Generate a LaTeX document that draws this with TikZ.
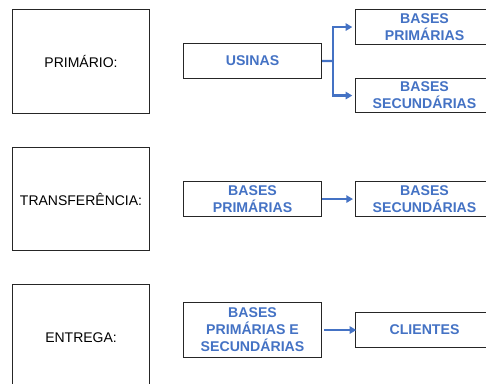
\documentclass[tikz,border=0pt]{standalone}
\usepackage{fontspec}
\setmainfont{Liberation Sans}
\usetikzlibrary{arrows.meta}
\definecolor{bl}{HTML}{4472C4}
\definecolor{bd}{HTML}{262626}
\begin{document}
\begin{tikzpicture}[x=0.75pt,y=-0.75pt,
  lbox/.style={draw=bd,line width=0.8pt,minimum width=102.75pt,anchor=north west,inner sep=0pt,font=\fontsize{10.5}{12.75}\selectfont,text=black},
  bbox/.style={draw=bd,line width=0.8pt,minimum width=103.5pt,anchor=north west,inner sep=0pt,align=center,font=\fontsize{10.6}{12.75}\selectfont\bfseries,text=bl},
  arr/.style={draw=bl,line width=1.6pt,-{Triangle[length=5pt,width=5.5pt]}},
  ln/.style={draw=bl,line width=1.6pt}]
\useasboundingbox (0,0) rectangle (486,383);
% left labels
\node[lbox,minimum height=78pt] (l1) at (12,9) {PRIMÁRIO:};
\node[lbox,minimum height=77.25pt] (l2) at (12,147) {TRANSFERÊNCIA:};
\node[lbox,minimum height=79.5pt] (l3) at (12,284) {ENTREGA:};
% row 1
\node[bbox,minimum height=26.25pt] (us) at (183,43) {USINAS};
\node[bbox,minimum height=26.25pt] (bp1) at (355,9) {BASES\\PRIMÁRIAS};
\node[bbox,minimum height=25.5pt] (bs1) at (355,78) {BASES\\SECUNDÁRIAS};
\coordinate (j) at (333,61);
\draw[ln] (us.east) -- (j);
\draw[arr,shorten >=2pt] (j) |- (bp1.west);
\draw[arr,shorten >=2pt] (j) |- (bs1.west);
% row 2
\node[bbox,minimum height=26.25pt] (bp2) at (183,181) {BASES\\PRIMÁRIAS};
\node[bbox,minimum height=26.25pt] (bs2) at (355,181) {BASES\\SECUNDÁRIAS};
\draw[arr] (bp2.east) -- ([xshift=-1.5pt]bs2.west);
% row 3
\node[bbox,minimum height=41.25pt] (bpe) at (183,302) {BASES\\PRIMÁRIAS E\\SECUNDÁRIAS};
\node[bbox,minimum height=26.25pt] (cl) at (355,312) {CLIENTES};
\draw[arr] ([xshift=1.5pt]bpe.east |- cl.west) -- ([xshift=1pt]cl.west);
\end{tikzpicture}
\end{document}
